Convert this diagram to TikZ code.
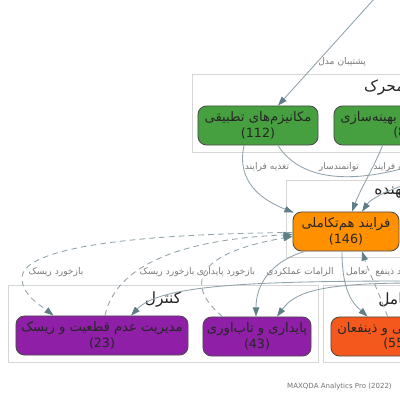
\documentclass[tikz,border=0pt]{standalone}
\usepackage{fontspec}
\setmainfont{DejaVu Sans}
\newfontfamily\ar[Script=Arabic]{DejaVu Sans}
\newfontfamily\arn[Script=Arabic,Scale=1.04]{DejaVu Sans}
\TeXXeTstate=1
\usetikzlibrary{arrows.meta,calc}
\definecolor{edgec}{HTML}{8FA2AC}
\definecolor{tipc}{HTML}{5E7E88}
\definecolor{labc}{HTML}{7A7A7A}
\definecolor{clus}{HTML}{D6D6D6}
\definecolor{gfill}{HTML}{47A03F}
\definecolor{ofill}{HTML}{FF9100}
\definecolor{pfill}{HTML}{8E1FA6}
\definecolor{rfill}{HTML}{F4581C}
\def\upx{0.7113pt}
\newcommand\rtl[1]{{\ar\beginR #1\endR}}
\newcommand\rtln[1]{{\arn\beginR #1\endR}}
\begin{document}
\begin{tikzpicture}[x=0.025cm,y=-0.025cm,
 code/.style={draw=black!70, line width=0.6pt, rounded corners=6pt, minimum height=39*\upx, inner sep=0pt, align=center, font=\fontsize{9}{11}\selectfont, text=black!85},
 clusterbox/.style={draw=clus, line width=0.6pt},
 ctitle/.style={font=\fontsize{11}{13}\selectfont, text=black!85, inner sep=0pt},
 edge/.style={draw=edgec, line width=0.6pt, -{Triangle[length=6.5pt,width=4.5pt,color=tipc]}},
 dedge/.style={edge, dash pattern=on 4pt off 3pt},
 elab/.style={font=\fontsize{6.5}{8}\selectfont, text=labc, inner sep=0pt},
 ntext/.style={font=\fontsize{9}{11}\selectfont, text=black!85, inner sep=0pt}]
\useasboundingbox (0,0) rectangle (400,400);
\clip (0,0) rectangle (400,400);
\fill[white] (0,0) rectangle (400,400);
% clusters
\draw[clusterbox] (192,74) rectangle (600,152);
\draw[clusterbox] (286,180) rectangle (600,257);
\draw[clusterbox] (8,285) rectangle (318,362);
\draw[clusterbox] (323,285) rectangle (600,362);
\node[ctitle,anchor=east] (t1) at (405,88) {\rtl{محرک}};
\node[ctitle,anchor=west] (t2) at (374,193) {\rtl{ــهنده}};
\node[ctitle] (t3) at (163,300) {\rtl{کنترل}};
\node[ctitle,anchor=west] (t4) at (378,300) {\rtl{ــامل}};
% nodes
\node[code, fill=gfill, minimum width=120*\upx] (mech) at (258,125.5) {\rtln{مکانیزم‌های تطبیقی}\\(112)};
\node[code, fill=gfill, minimum width=140*\upx] (opt) at (404,125.5) {};
\node[ntext,anchor=west] (optt) at (340,118) {\rtln{بهینه‌سازی}};
\node[ntext,anchor=west] (optn) at (393,133) {(8)};
\node[code, fill=ofill, minimum width=106*\upx] (proc) at (346,231.5) {\rtln{فرایند هم‌تکاملی}\\(146)};
\node[code, fill=pfill, minimum width=172*\upx] (risk) at (102,335.5) {\rtln{مدیریت عدم قطعیت و ریسک}\\(23)};
\node[code, fill=pfill, minimum width=108*\upx] (sust) at (257,336.5) {\rtln{پایداری و تاب‌اوری}\\(43)};
\node[code, fill=rfill, minimum width=140*\upx] (stake) at (401,336.5) {};
\node[ntext,anchor=west] (staket) at (337,329) {\rtln{ـــی و ذینفعان}};
\node[ntext,anchor=west] (staken) at (383,344) {(55)};
% off-canvas ends
\coordinate (topsrc) at (384,-12);
\coordinate (offA) at (415,165);
\coordinate (offB) at (415,182);
\coordinate (offC) at (415,281);
\coordinate (offD) at (415,283);
% edges
\draw[edge] (topsrc) -- ($(mech.north)+(20,0)$);
\draw[edge] ($(mech.south)+(-14,0)$) .. controls (236,182) and (262,200) .. ($(proc.north west)+(1,1)$);
\draw[draw=edgec, line width=0.6pt] ($(mech.south)+(20,0)$) .. controls (300,180) and (350,185) .. (offA);
\draw[edge] ($(opt.south west)+(49,0)$) .. controls (375,165) and (360,190) .. ($(proc.north)+(6,0)$);
\draw[edge] (offB) .. controls (385,190) and (370,200) .. ($(proc.north)+(16,0)$);
\draw[edge] ($(proc.south west)+(12,0)$) .. controls (270,262) and (256,285) .. ($(sust.north)+(-1,0)$);
\draw[edge] ($(proc.south)+(-4,0)$) .. controls (342,295) and (355,305) .. ($(stake.north west)+(37,0)$);
\draw[dedge] ($(stake.north west)+(57,0)$) .. controls (378,290) and (368,270) .. ($(proc.south)+(16,0)$);
\draw[edge] (offC) .. controls (250,281) and (160,285) .. ($(risk.north)+(29,0)$);
\draw[edge] (offD) .. controls (320,283) and (295,292) .. ($(sust.north)+(20,0)$);
\draw[dedge] ($(proc.west)+(0,1)$) .. controls (130,234) and (22,248) .. (22,278) .. controls (22,295) and (40,305) .. ($(risk.north west)+(38,0)$);
\draw[dedge] ($(risk.north)+(3,0)$) .. controls (115,270) and (170,240) .. ($(proc.west)+(0,3)$);
\draw[dedge] ($(sust.north west)+(20,0)$) .. controls (190,290) and (185,255) .. ($(proc.west)+(0,5)$);
% edge labels
\node[elab,anchor=west] (l1) at (318,62) {\rtl{پشتیبان مدل}};
\node[elab] (l2) at (267,167) {\rtl{تغذیه فرایند}};
\node[elab] (l3) at (339,167) {\rtl{توانمندسار}};
\node[elab,anchor=west] (l4) at (373,167) {\rtl{ــه فرایند}};
\node[elab] (l5) at (56,272) {\rtl{بازخورد ریسک}};
\node[elab] (l6) at (167,272) {\rtl{بازخورد ریسک}};
\node[elab] (l7) at (226,272) {\rtl{بازخورد پایداری}};
\node[elab] (l8) at (300,272) {\rtl{الزامات عملکردی}};
\node[elab] (l9) at (357,272) {\rtl{تعامل}};
\node[elab,anchor=west] (l10) at (375,272) {\rtl{بازخورد ذینفع}};
\node[elab,anchor=east,font=\fontsize{5}{6}\selectfont,text=black!55] (foot) at (392,387) {MAXQDA Analytics Pro (2022)};
\end{tikzpicture}
\end{document}
